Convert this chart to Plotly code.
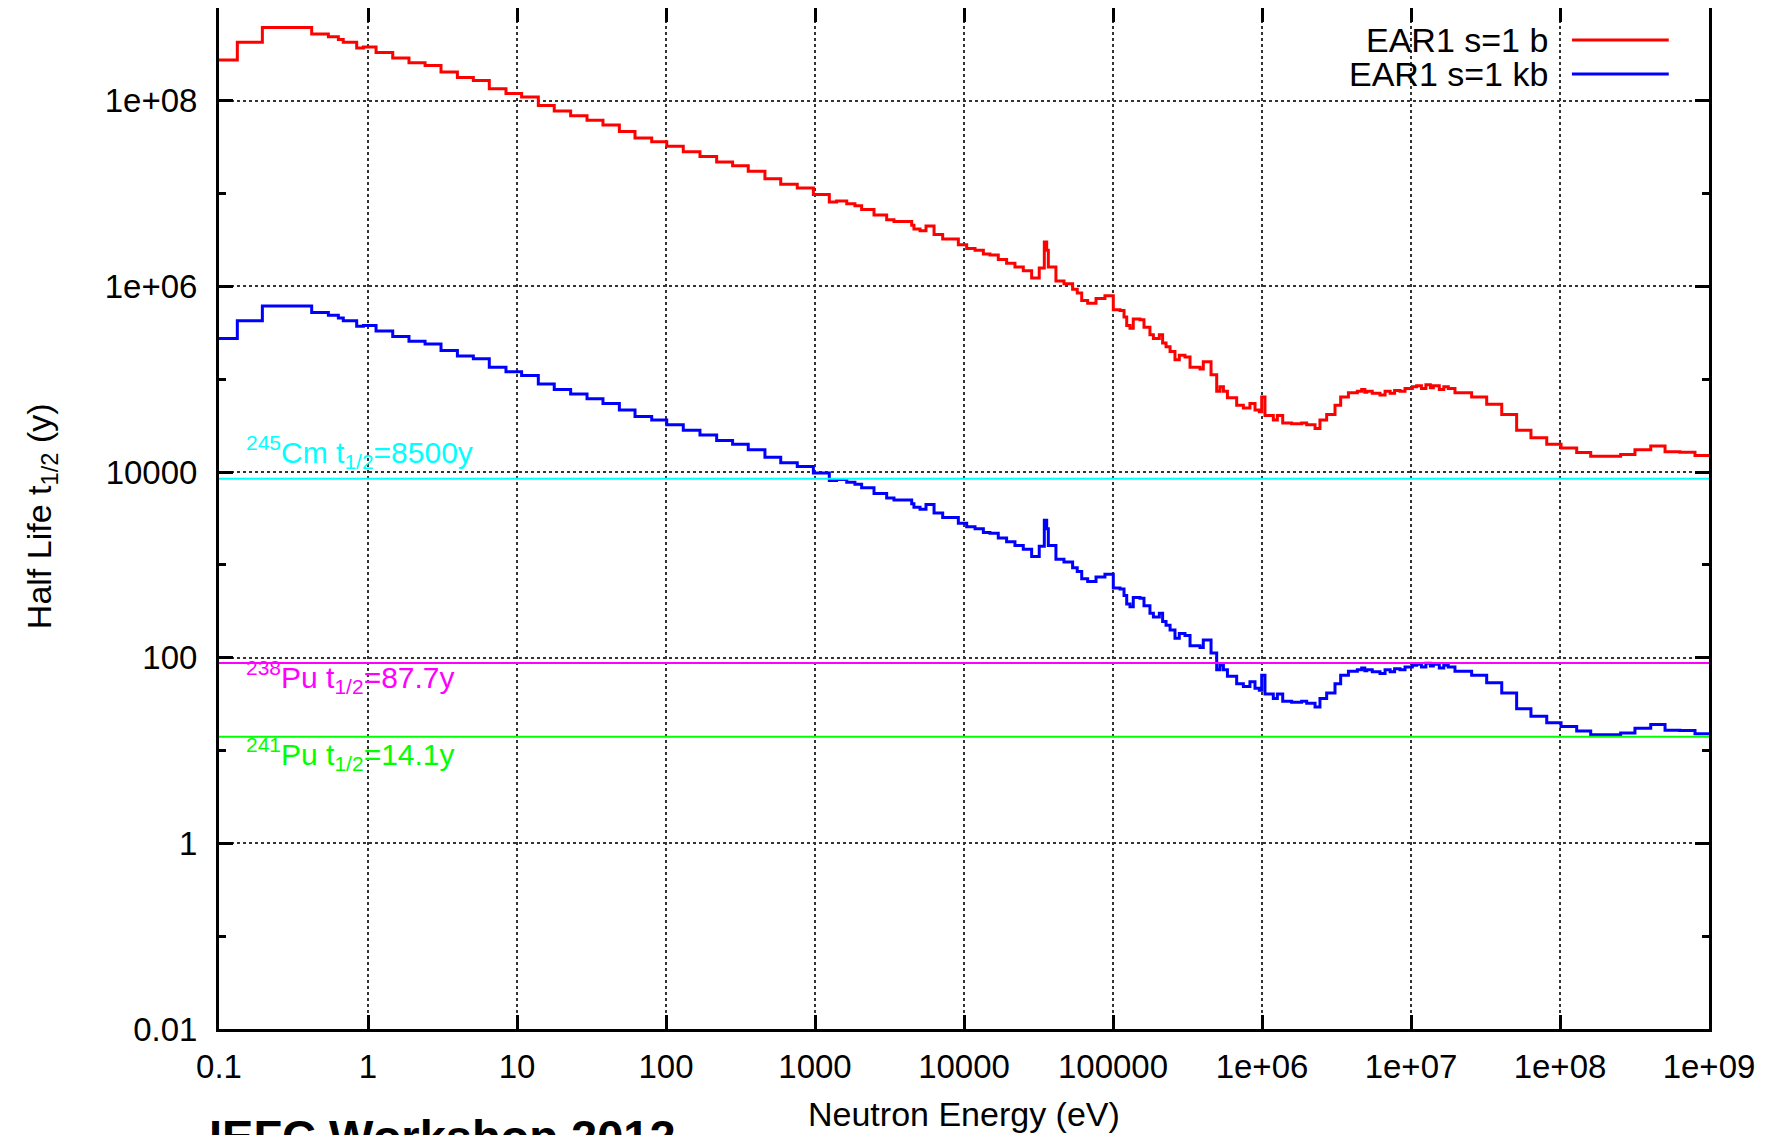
import numpy as np
import plotly.graph_objects as go

# ---------------- data ----------------
# left bin edges, log10(E / eV)
bin_edge_log10_eV = [
    -1.000, -0.877, -0.709, -0.378, -0.266, -0.199, -0.166, -0.076, -0.031, 0.054,
    0.166, 0.275, 0.383, 0.490, 0.600, 0.707, 0.814, 0.926, 1.031, 1.143,
    1.250, 1.360, 1.470, 1.577, 1.687, 1.792, 1.904, 2.005, 2.116, 2.228,
    2.340, 2.447, 2.552, 2.664, 2.770, 2.881, 2.989, 3.096, 3.145, 3.213,
    3.268, 3.313, 3.396, 3.481, 3.530, 3.649, 3.664, 3.705, 3.745, 3.799,
    3.857, 3.962, 4.018, 4.074, 4.130, 4.174, 4.230, 4.286, 4.342, 4.398,
    4.454, 4.505, 4.539, 4.555, 4.566, 4.617, 4.671, 4.729, 4.760, 4.790,
    4.830, 4.886, 4.946, 5.002, 5.047, 5.074, 5.092, 5.114, 5.136, 5.181,
    5.208, 5.248, 5.271, 5.311, 5.333, 5.356, 5.383, 5.416, 5.445, 5.483,
    5.517, 5.584, 5.606, 5.658, 5.696, 5.718, 5.741, 5.768, 5.830, 5.875,
    5.919, 5.953, 5.982, 5.998, 6.020, 6.076, 6.103, 6.139, 6.199, 6.266,
    6.300, 6.356, 6.389, 6.434, 6.490, 6.528, 6.580, 6.640, 6.669, 6.690,
    6.703, 6.740, 6.792, 6.826, 6.860, 6.890, 6.926, 6.960, 7.009, 7.038,
    7.070, 7.100, 7.130, 7.150, 7.190, 7.220, 7.250, 7.295, 7.407, 7.508,
    7.609, 7.709, 7.805, 7.911, 8.007, 8.112, 8.206, 8.407, 8.503, 8.609,
    8.705, 8.805, 8.906,
]
last_edge_log10_eV = 9.0

# log10(half life / y) for a cross section of 1 b
half_life_log10_y_1b = [
    8.44, 8.63, 8.79, 8.72, 8.69, 8.66, 8.63, 8.57, 8.58, 8.52,
    8.46, 8.41, 8.38, 8.31, 8.25, 8.22, 8.13, 8.08, 8.04, 7.95,
    7.89, 7.84, 7.79, 7.74, 7.67, 7.60, 7.56, 7.51, 7.45, 7.40,
    7.34, 7.30, 7.24, 7.16, 7.10, 7.06, 6.99, 6.91, 6.92, 6.89,
    6.87, 6.83, 6.77, 6.72, 6.70, 6.66, 6.62, 6.60, 6.65, 6.56,
    6.51, 6.45, 6.41, 6.39, 6.35, 6.34, 6.29, 6.25, 6.21, 6.17,
    6.09, 6.20, 6.48, 6.39, 6.21, 6.06, 6.03, 5.97, 5.93, 5.85,
    5.82, 5.87, 5.90, 5.75, 5.74, 5.67, 5.58, 5.55, 5.65, 5.64,
    5.56, 5.48, 5.44, 5.48, 5.39, 5.35, 5.30, 5.21, 5.26, 5.24,
    5.13, 5.11, 5.19, 5.05, 4.87, 4.92, 4.87, 4.80, 4.72, 4.69,
    4.74, 4.67, 4.65, 4.81, 4.61, 4.56, 4.61, 4.53, 4.52, 4.53,
    4.51, 4.47, 4.56, 4.62, 4.72, 4.81, 4.855, 4.87, 4.89, 4.86,
    4.87, 4.85, 4.83, 4.87, 4.85, 4.88, 4.87, 4.90, 4.92, 4.93,
    4.90, 4.94, 4.91, 4.93, 4.89, 4.92, 4.90, 4.855, 4.81, 4.73,
    4.62, 4.45, 4.37, 4.30, 4.26, 4.21, 4.17, 4.19, 4.24, 4.28,
    4.22, 4.215, 4.18,
]

# the two curves differ only by the assumed cross section
sigma_barn = [1.0, 1000.0]
series_names = ["EAR1 s=1 b", "EAR1 s=1 kb"]
series_colors = ["#ff0000", "#0000ff"]

# reference isotopes
isotope_mass = ["245", "238", "241"]
isotope_symbol = ["Cm", "Pu", "Pu"]
isotope_half_life_y = [8500.0, 87.7, 14.1]
isotope_half_life_text = ["8500y", "87.7y", "14.1y"]
isotope_colors = ["#00ffff", "#ff00ff", "#00ff00"]

x_tick_vals = [0.1, 1, 10, 100, 1000, 1e4, 1e5, 1e6, 1e7, 1e8, 1e9]
x_tick_text = ["0.1", "1", "10", "100", "1000", "10000", "100000",
               "1e+06", "1e+07", "1e+08", "1e+09"]
y_tick_vals = [0.01, 1, 100, 1e4, 1e6, 1e8]
y_tick_text = ["0.01", "1", "100", "10000", "1e+06", "1e+08"]
y_minor_vals = [0.1, 10, 1000, 1e5, 1e7, 1e9]

# ---------------- figure ----------------
FONT = "Liberation Sans"
fig = go.Figure()

energy = 10 ** np.array(bin_edge_log10_eV + [last_edge_log10_eV])
hl_1b = 10 ** np.array(half_life_log10_y_1b + [half_life_log10_y_1b[-1]])

for name, sig, col in zip(series_names, sigma_barn, series_colors):
    fig.add_trace(go.Scatter(
        x=energy, y=hl_1b / sig, mode="lines", name=name,
        line=dict(color=col, width=3, shape="hv"), showlegend=False))

for hl, col in zip(isotope_half_life_y, isotope_colors):
    fig.add_trace(go.Scatter(
        x=[x_tick_vals[0], x_tick_vals[-1]], y=[hl, hl], mode="lines",
        line=dict(color=col, width=2), showlegend=False, hoverinfo="skip"))

annotations = []
# isotope labels
label_anchor = ["bottom", "top", "top"]
label_shift = [4, 9, 6]
for m, s, hl, txt, col, anc, sh in zip(isotope_mass, isotope_symbol, isotope_half_life_y,
                                       isotope_half_life_text, isotope_colors,
                                       label_anchor, label_shift):
    annotations.append(dict(
        x=0.0165, xref="paper", y=np.log10(hl), yref="y",
        xanchor="left", yanchor=anc, yshift=sh, showarrow=False,
        text=f"<sup>{m}</sup>{s} t<sub>1/2</sub>={txt}",
        font=dict(family=FONT, size=30, color=col)))

# manual legend (text left of the line sample, as in the original)
legend_y = [0.9687, 0.9354]
for name, col, ly in zip(series_names, series_colors, legend_y):
    annotations.append(dict(
        x=0.8933, xref="paper", y=ly, yref="paper", xanchor="right", yanchor="middle",
        showarrow=False, text=name, font=dict(family=FONT, size=34, color="black")))
    fig.add_shape(type="line", xref="paper", yref="paper", x0=0.908, x1=0.973,
                  y0=ly, y1=ly, line=dict(color=col, width=3))

# axis titles
annotations.append(dict(
    x=0.5, xref="paper", y=-0.083, yref="paper", xanchor="center", yanchor="middle",
    showarrow=False, text="Neutron Energy (eV)",
    font=dict(family=FONT, size=34, color="black")))
annotations.append(dict(
    x=-0.119, xref="paper", y=0.502, yref="paper", xanchor="center", yanchor="middle",
    showarrow=False, textangle=-90, text="Half Life t<sub>1/2</sub> (y)",
    font=dict(family=FONT, size=34, color="black")))
# slide footer, cut at the page bottom
annotations.append(dict(
    x=-0.008, xref="paper", y=-0.077, yref="paper", xanchor="left", yanchor="top",
    showarrow=False, text="<b>IEFC Workshop 2012</b>",
    font=dict(family=FONT, size=47, color="black")))

axis_common = dict(
    showline=True, linecolor="black", linewidth=3, mirror="ticks",
    ticks="inside", tickcolor="black", tickwidth=2.5, ticklen=14,
    showgrid=True, gridcolor="#333333", gridwidth=1.5, griddash="dot",
    zeroline=False, tickfont=dict(family=FONT, size=33, color="black"),
)

fig.update_xaxes(type="log", range=[-1, 9], tickmode="array",
                 tickvals=x_tick_vals, ticktext=x_tick_text,
                 ticklabelstandoff=6, **axis_common)
fig.update_yaxes(type="log", range=[-2, 9], tickmode="array",
                 tickvals=y_tick_vals, ticktext=y_tick_text,
                 ticklabelstandoff=12,
                 minor=dict(tickmode="array", tickvals=y_minor_vals, ticks="inside",
                            ticklen=7, tickwidth=2.5, tickcolor="black", showgrid=False),
                 **axis_common)

# the page body adds an 8 px margin, so the figure is 8 px smaller and shifted
fig.update_layout(
    width=1770, height=1127,
    margin=dict(l=211, r=69, t=0, b=106, autoexpand=False),
    paper_bgcolor="white", plot_bgcolor="white",
    font=dict(family=FONT, color="black"),
    annotations=annotations,
    showlegend=False,
)

fig.write_html("out.html")
